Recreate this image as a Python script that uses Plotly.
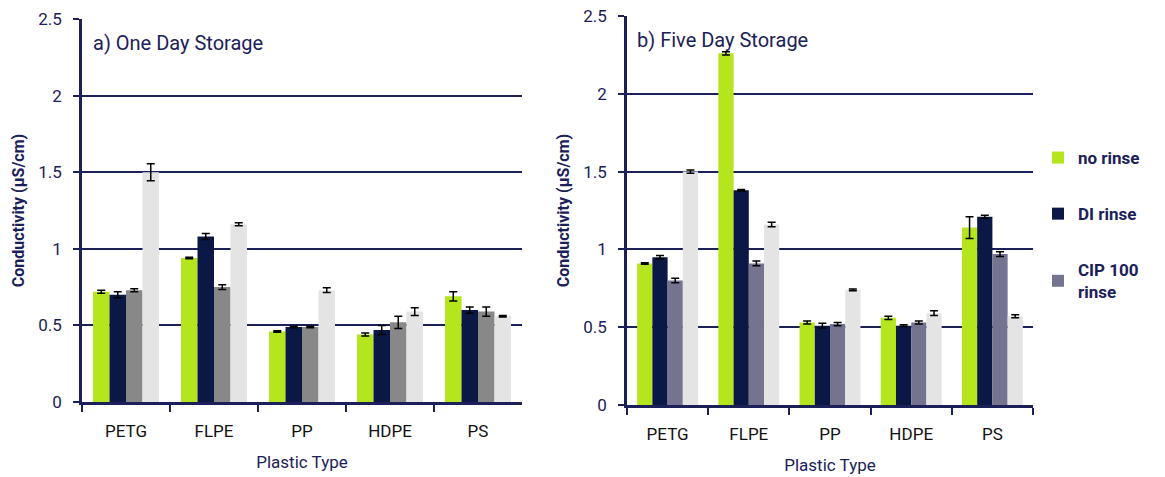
import plotly.graph_objects as go
from plotly.subplots import make_subplots

categories = ["PETG", "FLPE", "PP", "HDPE", "PS"]
series_names = ["no rinse", "DI rinse", "CIP 100<br>rinse", "other"]

# One day storage: mean conductivity (µS/cm) and error
day1_no_rinse = [0.72, 0.94, 0.46, 0.44, 0.69]
day1_di_rinse = [0.70, 1.08, 0.49, 0.47, 0.60]
day1_cip_rinse = [0.73, 0.75, 0.49, 0.52, 0.59]
day1_other = [1.50, 1.16, 0.73, 0.59, 0.56]
day1_no_rinse_err = [0.01, 0.005, 0.005, 0.01, 0.03]
day1_di_rinse_err = [0.02, 0.02, 0.005, 0.03, 0.02]
day1_cip_rinse_err = [0.01, 0.015, 0.005, 0.04, 0.03]
day1_other_err = [0.055, 0.01, 0.015, 0.025, 0.005]

# Five day storage
day5_no_rinse = [0.91, 2.26, 0.53, 0.56, 1.14]
day5_di_rinse = [0.95, 1.38, 0.51, 0.51, 1.21]
day5_cip_rinse = [0.80, 0.91, 0.52, 0.53, 0.97]
day5_other = [1.50, 1.16, 0.74, 0.59, 0.57]
day5_no_rinse_err = [0.005, 0.01, 0.01, 0.01, 0.07]
day5_di_rinse_err = [0.01, 0.005, 0.015, 0.005, 0.01]
day5_cip_rinse_err = [0.015, 0.015, 0.01, 0.01, 0.015]
day5_other_err = [0.01, 0.015, 0.005, 0.015, 0.01]

panel_titles = ["a) One Day Storage", "b) Five Day Storage"]

NAVY = "#1b2158"
GREEN = "#b5e61d"
DARK = "#0b1846"
GRAY_A = "#888888"
GRAY_B = "#747490"
LIGHT = "#e4e4e4"
FONT = "Roboto"

fig = make_subplots(rows=1, cols=2)

panels = [
    ([day1_no_rinse, day1_di_rinse, day1_cip_rinse, day1_other],
     [day1_no_rinse_err, day1_di_rinse_err, day1_cip_rinse_err, day1_other_err],
     [GREEN, DARK, GRAY_A, LIGHT]),
    ([day5_no_rinse, day5_di_rinse, day5_cip_rinse, day5_other],
     [day5_no_rinse_err, day5_di_rinse_err, day5_cip_rinse_err, day5_other_err],
     [GREEN, DARK, GRAY_B, LIGHT]),
]

for col, (vals, errs, colors) in enumerate(panels, start=1):
    for i, (v, e, c) in enumerate(zip(vals, errs, colors)):
        fig.add_trace(
            go.Bar(
                x=categories, y=v, name=series_names[i],
                marker=dict(color=c, line=dict(width=0)),
                error_y=dict(type="data", array=e, visible=True,
                             color="black", thickness=1.5, width=4),
                showlegend=(col == 2 and i < 3),
                legendgroup=series_names[i],
            ),
            row=1, col=col,
        )

axis_common = dict(
    showline=True, linecolor=NAVY, linewidth=2.5,
    ticks="outside", tickcolor=NAVY, tickwidth=2, automargin=False,
)

fig.update_xaxes(
    **axis_common, ticklen=7, tickson="boundaries", ticklabelstandoff=12,
    tickfont=dict(family=FONT, size=17, color="#111111"),
    title=dict(text="Plastic Type", font=dict(family=FONT, size=17, color=NAVY), standoff=16),
)
fig.update_yaxes(
    **axis_common, ticklen=6, range=[0, 2.5], dtick=0.5, ticklabelstandoff=8,
    showgrid=True, gridcolor=NAVY, gridwidth=1.5,
    zeroline=False,
    tickfont=dict(family=FONT, size=17, color=NAVY),
    title=dict(text="<b>Conductivity (µS/cm)</b>", font=dict(family=FONT, size=16, color=NAVY), standoff=10),
)

fig.update_layout(
    xaxis=dict(domain=[82 / 1165, 522 / 1165]),
    xaxis2=dict(domain=[627 / 1165, 1033 / 1165]),
    yaxis=dict(domain=[(477 - 402) / 477, (477 - 19) / 477]),
    yaxis2=dict(domain=[(477 - 405) / 477, (477 - 16) / 477]),
)

# Panel labels inside the plotting area
for k, title in enumerate(panel_titles):
    fig.add_annotation(
        text=title, xref=f"x{'' if k == 0 else 2} domain", yref=f"y{'' if k == 0 else 2} domain",
        x=0.02, y=0.975, xanchor="left", yanchor="top", showarrow=False,
        font=dict(family=FONT, size=20, color=NAVY),
    )

fig.update_layout(
    width=1165, height=477,
    margin=dict(l=0, r=0, t=0, b=0),
    paper_bgcolor="white", plot_bgcolor="white",
    barmode="group", bargap=0.25, bargroupgap=0,
    legend=dict(
        x=1038 / 1165, y=(477 - 140) / 477, xanchor="left", yanchor="top",
        font=dict(family=FONT, size=17, color=NAVY, weight="bold"),
        tracegroupgap=31, itemwidth=30,
        bgcolor="rgba(0,0,0,0)",
    ),
)

fig.write_html("out.html")
